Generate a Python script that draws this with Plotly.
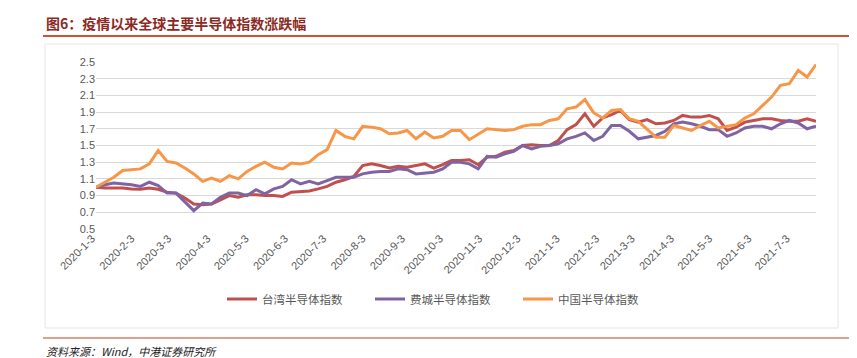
import pandas as pd
import plotly.graph_objects as go

# Weekly observation dates (Fridays)
dates = pd.date_range("2020-01-03", periods=82, freq="7D")

taiwan = [1.00, 0.99, 0.99, 0.99, 0.98, 0.976, 0.99, 0.976, 0.94, 0.93, 0.87, 0.80, 0.79, 0.80, 0.85,
          0.90, 0.88, 0.91, 0.91, 0.90, 0.90, 0.89, 0.94, 0.95, 0.956, 0.98, 1.01, 1.06, 1.09,
          1.13, 1.26, 1.28, 1.26, 1.23, 1.25, 1.24, 1.26, 1.28, 1.23, 1.27, 1.32, 1.32, 1.33, 1.27,
          1.36, 1.37, 1.42, 1.44, 1.50, 1.51, 1.50, 1.50, 1.56, 1.69, 1.75, 1.88,
          1.73, 1.83, 1.87, 1.92, 1.81, 1.78, 1.81, 1.76, 1.77, 1.80, 1.86, 1.84, 1.84, 1.86, 1.82,
          1.68, 1.72, 1.78, 1.80, 1.82, 1.82, 1.80, 1.79, 1.79, 1.82, 1.79]

sox = [1.00, 1.03, 1.05, 1.04, 1.03, 1.01, 1.06, 1.02, 0.93, 0.93, 0.83, 0.72, 0.81, 0.80, 0.88,
       0.93, 0.93, 0.90, 0.97, 0.92, 0.98, 1.01, 1.09, 1.04, 1.07, 1.04, 1.08, 1.12, 1.12,
       1.12, 1.16, 1.18, 1.19, 1.19, 1.22, 1.21, 1.16, 1.17, 1.18, 1.22, 1.30, 1.30, 1.28, 1.22,
       1.37, 1.36, 1.40, 1.43, 1.50, 1.46, 1.49, 1.50, 1.52, 1.58, 1.61, 1.65,
       1.56, 1.61, 1.74, 1.74, 1.67, 1.58, 1.60, 1.62, 1.67, 1.76, 1.78, 1.76, 1.73, 1.69, 1.69,
       1.61, 1.65, 1.71, 1.73, 1.73, 1.70, 1.76, 1.80, 1.77, 1.70, 1.73]

china = [1.00, 1.06, 1.12, 1.20, 1.21, 1.22, 1.28, 1.44, 1.31, 1.29, 1.23, 1.16, 1.07, 1.11, 1.07,
         1.14, 1.10, 1.19, 1.25, 1.30, 1.24, 1.22, 1.29, 1.28, 1.30, 1.39, 1.45, 1.68, 1.61,
         1.58, 1.73, 1.72, 1.70, 1.64, 1.65, 1.68, 1.58, 1.66, 1.59, 1.61, 1.68, 1.68, 1.57, 1.63,
         1.70, 1.69, 1.68, 1.69, 1.73, 1.75, 1.75, 1.80, 1.82, 1.94, 1.96, 2.05,
         1.89, 1.83, 1.92, 1.93, 1.82, 1.79, 1.69, 1.60, 1.60, 1.74, 1.71, 1.68, 1.74, 1.79, 1.71,
         1.73, 1.75, 1.83, 1.88, 1.98, 2.08, 2.22, 2.24, 2.40, 2.32, 2.47]

series_names = ["台湾半导体指数", "费城半导体指数", "中国半导体指数"]
series_colors = ["#C0504D", "#8064A2", "#F79646"]

x_tick_dates = ["2020-01-03", "2020-02-03", "2020-03-03", "2020-04-03", "2020-05-03", "2020-06-03",
                "2020-07-03", "2020-08-03", "2020-09-03", "2020-10-03", "2020-11-03", "2020-12-03",
                "2021-01-03", "2021-02-03", "2021-03-03", "2021-04-03", "2021-05-03", "2021-06-03",
                "2021-07-03"]
x_tick_labels = ["2020-1-3", "2020-2-3", "2020-3-3", "2020-4-3", "2020-5-3", "2020-6-3",
                 "2020-7-3", "2020-8-3", "2020-9-3", "2020-10-3", "2020-11-3", "2020-12-3",
                 "2021-1-3", "2021-2-3", "2021-3-3", "2021-4-3", "2021-5-3", "2021-6-3",
                 "2021-7-3"]
y_ticks = [0.5, 0.7, 0.9, 1.1, 1.3, 1.5, 1.7, 1.9, 2.1, 2.3, 2.5]

title_text = "图6：疫情以来全球主要半导体指数涨跌幅"
source_text = "资料来源：Wind，中港证券研究所"

W, H = 857, 358
L, R, T, B = 88, 49, 54, 137
pw, ph = W - L - R, H - T - B


def px_x(p):
    return (p - L) / pw


def px_y(p):
    return (H - B - p) / ph


fig = go.Figure()
for name, vals, col in zip(series_names, [taiwan, sox, china], series_colors):
    fig.add_trace(go.Scatter(x=dates, y=vals, mode="lines", name=name,
                             line=dict(color=col, width=3)))

cjk = "Noto Sans CJK SC"
fig.update_layout(
    width=W, height=H,
    margin=dict(l=L, r=R, t=T, b=B),
    paper_bgcolor="white", plot_bgcolor="white",
    showlegend=True,
    legend=dict(orientation="h", x=px_x(436), xanchor="center", y=px_y(291), yanchor="middle",
                font=dict(family=cjk, size=11.5, color="#595959"),
                itemwidth=30, entrywidth=103, tracegroupgap=0),
    xaxis=dict(type="date", range=[dates[0], dates[-1]],
               tickvals=x_tick_dates, ticktext=x_tick_labels, tickangle=-45,
               tickfont=dict(family="Liberation Sans", size=11, color="#595959"),
               ticklabelshift=-4,
               showgrid=False, zeroline=False, showline=False, ticks=""),
    yaxis=dict(range=[0.5, 2.5], tickvals=y_ticks, ticktext=[f"{v:.1f}" for v in y_ticks],
               tickfont=dict(family="Liberation Sans", size=11, color="#595959"),
               showgrid=True, gridcolor="#D9D9D9", gridwidth=1, zeroline=False,
               showline=False, ticks="", ticklen=0),
)

fig.update_layout(
    shapes=[
        # title underline
        dict(type="line", xref="paper", yref="paper", x0=px_x(35), x1=px_x(846),
             y0=px_y(28), y1=px_y(28), line=dict(color="#C8553A", width=2)),
        # footer line
        dict(type="line", xref="paper", yref="paper", x0=px_x(35), x1=px_x(846),
             y0=px_y(330), y1=px_y(330), line=dict(color="#E2A08C", width=2)),
        # chart frame
        dict(type="rect", xref="paper", yref="paper", x0=px_x(37), x1=px_x(830),
             y0=px_y(320), y1=px_y(36), line=dict(color="#E6E6E6", width=1), layer="below"),
    ],
    annotations=[
        dict(text=f"<b>{title_text}</b>", xref="paper", yref="paper", x=px_x(36), y=px_y(15),
             xanchor="left", yanchor="middle", showarrow=False,
             font=dict(family=cjk, size=14, color="#8B2A24")),
        dict(text=f"<i>{source_text}</i>", xref="paper", yref="paper", x=px_x(36), y=px_y(343),
             xanchor="left", yanchor="middle", showarrow=False,
             font=dict(family=cjk, size=11, color="#222222")),
    ],
)

fig.write_html("out.html")
